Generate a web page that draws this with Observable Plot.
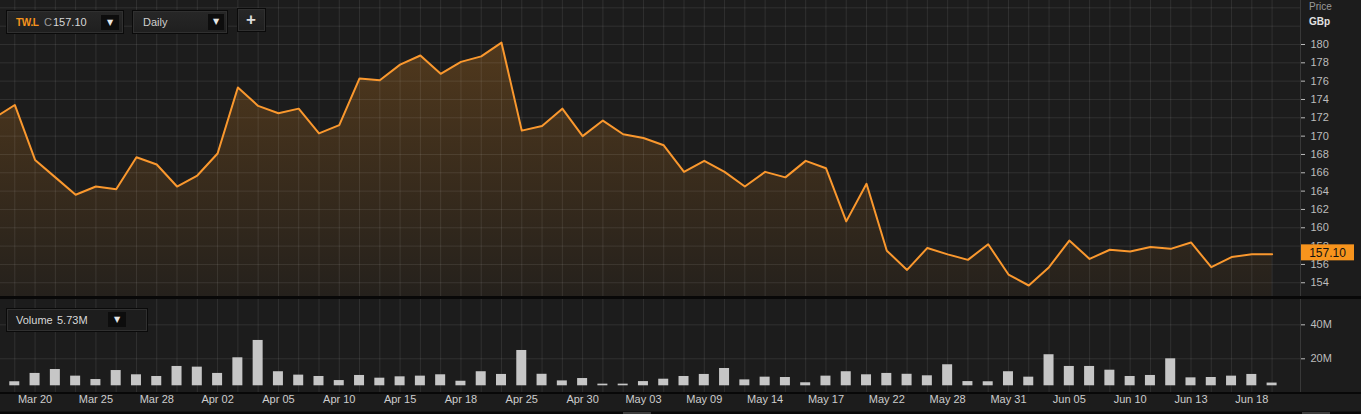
<!DOCTYPE html>
<html>
<head>
<meta charset="utf-8">
<script src="https://cdn.jsdelivr.net/npm/d3@7"></script>
<script src="https://cdn.jsdelivr.net/npm/@observablehq/plot@0.6"></script>
<style>
html,body{margin:0;padding:0;background:#080808;}
#wrap{position:relative;width:1361px;height:414px;overflow:hidden;background:#080808;font-family:"Liberation Sans",Arial,Helvetica,sans-serif;}
#price{position:absolute;left:0;top:0;}
#vol{position:absolute;left:0;top:299px;}
.ctl{position:absolute;box-sizing:border-box;height:24px;border:1px solid #0a0a0a;background:linear-gradient(#272727,#1f1f1f);box-shadow:inset 0 0 0 1px #303030;font-size:11px;color:#cfcfcf;}
.ctl span{position:absolute;top:5px;line-height:13px;white-space:nowrap;}
.btn{position:absolute;background:#0d0d0d;color:#e6e6e6;font-size:8px;text-align:center;font-family:"DejaVu Sans",sans-serif;}
.ax{position:absolute;font-size:10px;white-space:nowrap;}
.sb{position:absolute;height:2px;background:#3c3c3c;}
</style>
</head>
<body>
<div id="wrap">
  <div id="price"></div>
  <div id="vol"></div>

  <div class="ctl" style="left:6px;top:10px;width:118px;">
    <span style="left:9px;color:#f7941d;font-weight:bold;font-size:10px;letter-spacing:-0.3px;">TW.L</span>
    <span style="left:37px;color:#9a9a9a;">C</span>
    <span id="topLast" style="left:46px;color:#d8d8d8;"></span>
    <div class="btn" style="left:94px;top:4px;width:18px;height:15px;line-height:15px;">▼</div>
  </div>
  <div class="ctl" style="left:132px;top:10px;width:96px;">
    <span style="left:10px;color:#cfcfcf;">Daily</span>
    <div class="btn" style="left:75px;top:3px;width:16px;height:16px;line-height:16px;">▼</div>
  </div>
  <div class="ctl" style="left:237px;top:8px;width:29px;">
    <span style="left:8px;top:2px;font-size:17px;line-height:18px;font-weight:bold;color:#dcdcdc;">+</span>
  </div>

  <div class="ctl" style="left:6px;top:308px;width:142px;background:#1d1d1d;">
    <span style="left:9px;color:#d8d8d8;">Volume</span>
    <span id="volLast" style="left:50px;color:#d8d8d8;"></span>
    <div class="btn" style="left:101px;top:3px;width:18px;height:15px;line-height:15px;">▼</div>
  </div>

  <div class="ax" style="left:1309px;top:1px;color:#9a9a9a;">Price</div>
  <div class="ax" style="left:1309px;top:16px;color:#e2e2e2;font-weight:bold;">GBp</div>
  <div class="sb" style="left:623px;top:412px;width:28px;"></div>
  <div class="sb" style="left:1302px;top:412px;width:28px;"></div>
</div>
<script>
// ---- data ----
const dates = [
"2019-03-18","2019-03-19","2019-03-20","2019-03-21","2019-03-22","2019-03-25","2019-03-26","2019-03-27","2019-03-28","2019-03-29",
"2019-04-01","2019-04-02","2019-04-03","2019-04-04","2019-04-05","2019-04-08","2019-04-09","2019-04-10","2019-04-11","2019-04-12",
"2019-04-15","2019-04-16","2019-04-17","2019-04-18","2019-04-23","2019-04-24","2019-04-25","2019-04-26","2019-04-29","2019-04-30",
"2019-05-01","2019-05-02","2019-05-03","2019-05-07","2019-05-08","2019-05-09","2019-05-10","2019-05-13","2019-05-14","2019-05-15",
"2019-05-16","2019-05-17","2019-05-20","2019-05-21","2019-05-22","2019-05-23","2019-05-24","2019-05-28","2019-05-29","2019-05-30",
"2019-05-31","2019-06-03","2019-06-04","2019-06-05","2019-06-06","2019-06-07","2019-06-10","2019-06-11","2019-06-12","2019-06-13",
"2019-06-14","2019-06-17","2019-06-18","2019-06-19"];

const closes = [
172.0,173.4,167.4,165.5,163.6,164.5,164.2,167.7,166.9,164.5,
165.7,168.1,175.3,173.3,172.5,173.0,170.3,171.2,176.3,176.1,
177.8,178.8,176.8,178.1,178.7,180.2,170.6,171.1,173.0,170.0,
171.7,170.2,169.8,169.0,166.1,167.3,166.1,164.5,166.1,165.5,
167.3,166.5,160.7,164.8,157.5,155.4,157.8,157.1,156.5,158.2,
154.9,153.7,155.7,158.6,156.6,157.6,157.4,157.9,157.7,158.4,
155.7,156.8,157.1,157.10];

// volume in millions of shares
const volumes = [
8.0,6.5,11.4,13.7,9.8,7.8,13.1,10.6,9.6,15.5,
15.1,11.4,20.6,30.8,12.4,10.4,9.6,7.2,10.2,8.6,
9.4,9.8,10.6,6.8,12.4,10.8,24.9,10.9,7.0,8.4,
5.1,5.1,6.6,8.0,9.6,10.8,14.3,7.6,9.2,9.0,
5.9,9.8,12.4,10.6,11.4,10.9,10.0,16.5,6.6,6.5,
12.4,9.2,22.4,15.5,15.5,13.3,9.6,10.2,20.0,8.8,
9.0,9.8,10.8,5.73];

const tickDates = ["2019-03-20","2019-03-25","2019-03-28","2019-04-02","2019-04-05","2019-04-10","2019-04-15",
"2019-04-18","2019-04-25","2019-04-30","2019-05-03","2019-05-09","2019-05-14","2019-05-17","2019-05-22",
"2019-05-28","2019-05-31","2019-06-05","2019-06-10","2019-06-13","2019-06-18"];
const tickLabels = ["Mar 20","Mar 25","Mar 28","Apr 02","Apr 05","Apr 10","Apr 15","Apr 18","Apr 25","Apr 30",
"May 03","May 09","May 14","May 17","May 22","May 28","May 31","Jun 05","Jun 10","Jun 13","Jun 18"];
const priceTicks = [154,156,158,160,162,164,166,168,170,172,174,176,178,180];
const priceGrid = [154,156,158,160,162,164,166,168,170,172,174,176,178,180,182,184];
const volumeTicks = [20,40];

// ---- build ----
const rows = dates.map((date, k) => ({k, date, close: closes[k], vol: volumes[k]}));
const tickRows = tickDates.map((d, j) => ({k: dates.indexOf(d), label: tickLabels[j]}));
const lastClose = closes[closes.length - 1];
document.getElementById("topLast").textContent = lastClose.toFixed(2);
document.getElementById("volLast").textContent = volumes[volumes.length - 1].toFixed(2) + "M";

const W = 1361, RM = 61;
const xDomain = [0.295, 64.40];
const priceDomain = [152.5, 184.8];
const NS = "http://www.w3.org/2000/svg";
const font = "Liberation Sans, Arial, Helvetica, sans-serif";

function gradientDefs() {
  const g = document.createElementNS(NS, "g");
  g.innerHTML = `<defs><linearGradient id="areaGrad" x1="0" y1="0" x2="0" y2="1">
    <stop offset="0" stop-color="#f7931e" stop-opacity="0.24"/>
    <stop offset="1" stop-color="#f7931e" stop-opacity="0.04"/></linearGradient></defs>`;
  return g;
}

function priceTag(index, scales, values, dims) {
  const g = document.createElementNS(NS, "g");
  const sy = typeof scales.y === "function" ? scales.y : null;
  const x0 = dims.width - dims.marginRight;
  let html = `<line x1="${x0 + 0.5}" x2="${x0 + 0.5}" y1="0" y2="${dims.height}" stroke="#383838"/>`;
  if (sy) {
    const y = sy(lastClose) - 1.5;
    html += `<rect x="${x0 + 1}" y="${y - 8}" width="53" height="16" fill="#f7941d"/>
      <text x="${x0 + 27.5}" y="${y}" dy="0.36em" text-anchor="middle" fill="#111" font-size="12" font-family="${font}">${lastClose.toFixed(2)}</text>`;
  }
  g.innerHTML = html;
  return g;
}

function volDecor(index, scales, values, dims) {
  const g = document.createElementNS(NS, "g");
  const fb = dims.height - dims.marginBottom;
  const x0 = dims.width - dims.marginRight;
  g.innerHTML = `<line x1="${x0 + 0.5}" x2="${x0 + 0.5}" y1="0" y2="${fb}" stroke="#383838"/>
    <rect x="0" y="${fb}" width="${dims.width}" height="2" fill="#080808"/>
    <rect x="0" y="${dims.height - 2.5}" width="${dims.width}" height="2.5" fill="#080808"/>`;
  return g;
}

const pricePlot = Plot.plot({
  width: W, height: 296,
  marginLeft: 0, marginRight: RM, marginTop: 0, marginBottom: 0,
  style: {background: "#1c1c1c", color: "#bdbdbd", fontSize: "11px", fontFamily: font},
  x: {domain: xDomain, axis: null},
  y: {domain: priceDomain, axis: "right", ticks: priceTicks, tickSize: 4, tickPadding: 6, tickFormat: d => String(d), label: null},
  marks: [
    gradientDefs,
    Plot.areaY(rows, {x: "k", y1: priceDomain[0], y2: "close", fill: "url(#areaGrad)", clip: true}),
    Plot.ruleY(priceGrid, {stroke: "#ffffff", strokeOpacity: 0.09}),
    Plot.ruleX(rows, {x: "k", stroke: "#ffffff", strokeOpacity: 0.09}),
    Plot.lineY(rows, {x: "k", y: "close", stroke: "#fa982e", strokeWidth: 2, clip: true}),
    priceTag
  ]
});
document.getElementById("price").appendChild(pricePlot);

const volPlot = Plot.plot({
  width: W, height: 115,
  marginLeft: 0, marginRight: RM, marginTop: 0, marginBottom: 22,
  style: {background: "#1c1c1c", color: "#bdbdbd", fontSize: "11px", fontFamily: font},
  x: {domain: xDomain, axis: null},
  y: {domain: [0, 54.9], range: [93.3, 0], axis: "right", ticks: volumeTicks, tickSize: 4, tickPadding: 6, tickFormat: d => d + "M", label: null},
  marks: [
    Plot.ruleY(volumeTicks, {stroke: "#ffffff", strokeOpacity: 0.09}),
    Plot.ruleX(rows, {x: "k", stroke: "#ffffff", strokeOpacity: 0.09}),
    Plot.rect(rows, {x1: d => d.k - 0.5, x2: d => d.k + 0.5, y1: 0, y2: "vol",
      insetLeft: 5.14, insetRight: 5.14, insetBottom: 7, fill: "#c6c6c6", clip: true}),
    volDecor,
    Plot.text(tickRows, {x: "k", text: "label", frameAnchor: "bottom", dy: 10, fill: "#cdcdcd", fontSize: 11})
  ]
});
document.getElementById("vol").appendChild(volPlot);
</script>
</body>
</html>
